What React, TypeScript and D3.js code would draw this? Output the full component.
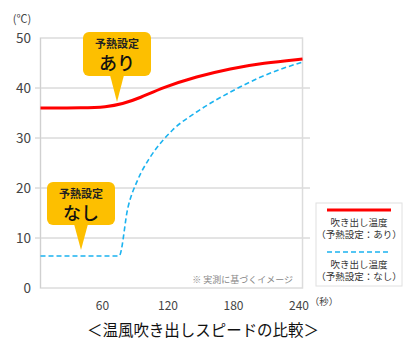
import React from "react";
import * as d3 from "d3";

const xTicks = [60, 120, 180, 240];
const yTicks = [0, 10, 20, 30, 40, 50];
const seriesOnTime = [0, 40, 60, 75, 91, 112, 143, 174, 204, 240];
const seriesOnTemp = [36, 36, 36.2, 36.8, 38, 40.1, 42.3, 43.9, 45, 45.8];
const seriesOffTime = [0, 72, 80, 89, 100, 112, 121, 143, 174, 204, 240];
const seriesOffTemp = [6.4, 6.4, 16, 21.6, 26, 29.5, 31.6, 35.2, 39.2, 42.4, 45.2];
const legendLabels = [["吹き出し温度", "（予熱設定：あり）"], ["吹き出し温度", "（予熱設定：なし）"]];

const FONT = "'Noto Sans CJK JP', 'Noto Sans', sans-serif";

export default function App() {
  const x = d3.scaleLinear().domain([0, 240]).range([40.5, 302.5]);
  const y = d3.scaleLinear().domain([0, 50]).range([288, 38]);
  const lineOn = d3
    .line<number>()
    .x((d, i) => x(seriesOnTime[i]))
    .y((d) => y(d))
    .curve(d3.curveBasis);
  const lineOff = d3
    .line<number>()
    .x((d, i) => x(seriesOffTime[i]))
    .y((d) => y(d))
    .curve(d3.curveMonotoneX);
  const yellow = "#FDBF00";

  const callout = (bx: number, by: number, w: number, h: number, tipX: number, tipY: number, big: string) => (
    <g>
      <rect x={bx} y={by} width={w} height={h} rx={6} fill={yellow} />
      <path d={`M${tipX - 7},${by + h - 1} L${tipX},${tipY} L${tipX + 7},${by + h - 1} Z`} fill={yellow} />
      <text x={bx + w / 2} y={by + 16} textAnchor="middle" fontSize={11} fontWeight={700} fill="#222" fontFamily={FONT}>予熱設定</text>
      <text x={bx + w / 2} y={by + 38} textAnchor="middle" fontSize={18} fontWeight={500} fill="#111" fontFamily={FONT}>{big}</text>
    </g>
  );

  return (
    <svg width={417} height={356} style={{ position: "absolute", left: 0, top: 0, background: "#fff" }}>
      {yTicks.filter((t) => t > 0 && t < 50).map((t) => (
        <line key={t} x1={35} x2={310} y1={y(t)} y2={y(t)} stroke="#c8c8c8" strokeWidth={1} />
      ))}
      <rect x={x(0)} y={y(50)} width={x(240) - x(0)} height={y(0) - y(50)} fill="none" stroke="#dcdcdc" strokeWidth={1.5} />
      <line x1={x(0)} x2={x(0)} y1={y(50)} y2={y(0)} stroke="#d0d0d0" strokeWidth={1} />
      {yTicks.map((t) => (
        <text key={t} x={31} y={y(t) + 5} textAnchor="end" fontSize={13.5} fill="#444" fontFamily={FONT}>{t}</text>
      ))}
      <text x={22} y={23} textAnchor="middle" fontSize={11} fill="#444" fontFamily={FONT}>(℃)</text>
      {xTicks.map((t) => (
        <text key={t} x={x(t) - 3.5} y={310} textAnchor="middle" fontSize={12} fill="#444" fontFamily={FONT}>{t}</text>
      ))}
      <text x={324} y={305} textAnchor="middle" fontSize={9.5} fill="#444" fontFamily={FONT}>（秒）</text>
      <text x={293} y={283} textAnchor="end" fontSize={9} fill="#888" fontFamily={FONT}>※ 実測に基づくイメージ</text>
      <path d={lineOff(seriesOffTemp) || ""} fill="none" stroke="#1BB3F0" strokeWidth={1.6} strokeDasharray="5,3" />
      <path d={lineOn(seriesOnTemp) || ""} fill="none" stroke="#FF0000" strokeWidth={3} />
      {callout(83, 32, 68, 44, 117, 102, "あり")}
      {callout(47, 182, 68, 43, 81, 250, "なし")}
      <rect x={316} y={203} width={86} height={83} fill="#fff" stroke="#e0e0e0" strokeWidth={1} />
      <line x1={327} x2={391} y1={210} y2={210} stroke="#FF0000" strokeWidth={3} />
      <line x1={327} x2={391} y1={252} y2={252} stroke="#1BB3F0" strokeWidth={1.6} strokeDasharray="5,3" />
      {legendLabels.map((pair, i) => (
        <g key={i}>
          <text x={359} y={226 + i * 42} textAnchor="middle" fontSize={9.5} fill="#333" fontFamily={FONT}>{pair[0]}</text>
          <text x={359} y={238 + i * 42} textAnchor="middle" fontSize={9.5} fill="#333" fontFamily={FONT}>{pair[1]}</text>
        </g>
      ))}
      <text x={203} y={336} textAnchor="middle" fontSize={16} fill="#111" fontFamily={FONT} textLength={232} lengthAdjust="spacingAndGlyphs">＜温風吹き出しスピードの比較＞</text>
    </svg>
  );
}
